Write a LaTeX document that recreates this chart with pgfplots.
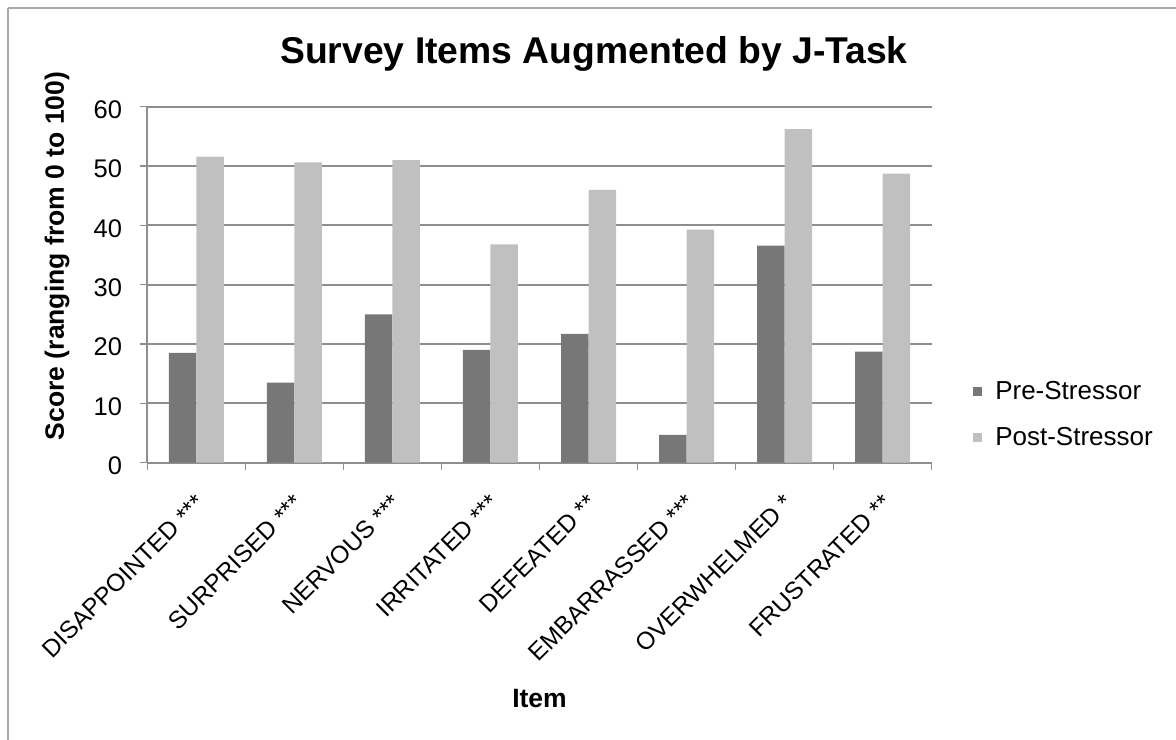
\documentclass[border=0pt]{standalone}
\usepackage{fontspec}
\setmainfont{Liberation Sans}
\usepackage{pgfplots}
\pgfplotsset{compat=1.18}
\definecolor{preC}{HTML}{777777}
\definecolor{postC}{HTML}{C0C0C0}
\definecolor{gridC}{HTML}{8E8E8E}
\definecolor{frameC}{HTML}{A8A8A8}
\begin{document}
\begin{tikzpicture}[x=1bp,y=1bp]
\path[use as bounding box] (0,0) rectangle (1176,740);
\draw[frameC, line width=2bp] (8,731.5) -- (1176,731.5);
\draw[frameC, line width=1.5bp] (8,731.5) -- (8,0);
\begin{axis}[
  at={(147.3bp,277.3bp)}, anchor=south west,
  scale only axis, width=784.4bp, height=356bp,
  ybar=0pt, bar width=27.5bp,
  xmin=-0.5, xmax=7.5, ymin=0, ymax=60,
  ytick={0,10,...,60},
  xtick={0,...,7},
  xticklabels={DISAPPOINTED ***, SURPRISED ***, NERVOUS ***, IRRITATED ***, DEFEATED **, EMBARRASSED ***, OVERWHELMED *, FRUSTRATED **},
  minor xtick={-0.5,0.5,...,7.5},
  axis x line*=bottom, axis y line*=left,
  axis line style={gridC, line width=2bp},
  ymajorgrids, grid style={gridC, line width=2bp},
  tick align=outside, major tick length=7bp, minor tick length=7bp,
  tick style={gridC, line width=1.5bp},
  major x tick style={draw=none},
  /pgf/number format/assume math mode=true,
  xticklabel style={font=\fontsize{24.5bp}{28bp}\selectfont, yshift=-23bp, xshift=-2bp, rotate=45, anchor=north east, inner sep=0pt},
  yticklabel shift=18bp,
  yticklabel style={font=\fontsize{25.5bp}{30bp}\selectfont, anchor=east, inner sep=0pt, yshift=-3bp},
  title={Survey Items Augmented by J-Task},
  title style={at={(0.5695,1.105)}, anchor=base, font=\bfseries\fontsize{37.3bp}{42bp}\selectfont},
  xlabel={Item},
  every axis x label/.style={at={(0.5,-0.689)}, anchor=base, font=\bfseries\fontsize{26.5bp}{30bp}\selectfont},
  ylabel={Score (ranging from 0 to 100)},
  every axis y label/.style={at={(-0.1065,0.5806)}, rotate=90, anchor=base, font=\bfseries\fontsize{26.5bp}{30bp}\selectfont},
  legend style={draw=none, fill=none, at={(1.0527,0.136)}, anchor=west, inner sep=0pt, row sep=26bp, font=\fontsize{26bp}{30bp}\selectfont, nodes={inner sep=0pt}},
  legend cell align=left,
  every axis plot post/.append style={legend image code/.code={\fill[##1] (0bp,-4.5bp) rectangle (9bp,4.5bp); \path (22bp,0bp);}},
]
\addplot[fill=preC, draw=none] coordinates {(0,18.5) (1,13.5) (2,25.0) (3,19.0) (4,21.7) (5,4.7) (6,36.6) (7,18.7)};
\addplot[fill=postC, draw=none] coordinates {(0,51.6) (1,50.6) (2,51.0) (3,36.8) (4,46.0) (5,39.3) (6,56.2) (7,48.7)};
\legend{Pre-Stressor, Post-Stressor}
\end{axis}
\end{tikzpicture}
\end{document}
